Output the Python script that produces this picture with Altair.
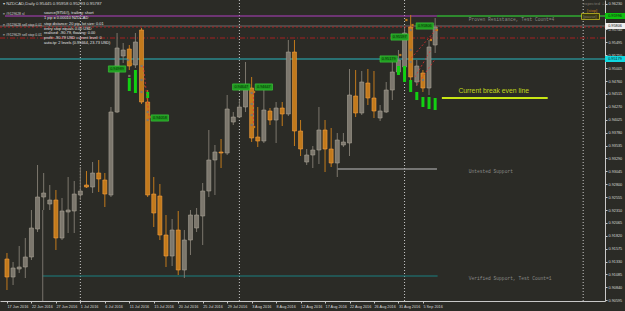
import altair as alt
import pandas as pd

# ---------------- data (NZDCAD daily, bar 0 = 17 Jun 2016, Sunday bars included) -------------
opens = [0.91379,0.91037,0.91189,0.91227,0.91417,0.91949,0.92557,0.92424,0.92500,0.91778,
         0.92272,0.92291,0.92595,0.92785,0.92747,0.93013,0.92880,0.92595,0.94172,0.95236,
         0.95369,0.95065,0.95730,0.94362,0.92614,0.92576,0.91835,0.91436,0.91930,0.91170,
         0.91740,0.91968,0.92196,0.92671,0.93260,0.93412,0.93393,0.93982,0.94077,0.94267,
         0.94628,0.93697,0.93621,0.94191,0.94020,0.94248,0.94134,0.95312,0.93811,0.93222,
         0.93355,0.93450,0.93830,0.93469,0.93203,0.93545,0.93583,0.94476,0.94153,0.94723,
         0.94438,0.94058,0.94172,0.94590,0.94932,0.95027,0.95787,0.94742,0.94913,0.94628,
         0.95445]
highs = [0.91493,0.91322,0.91626,0.91778,0.92310,0.93165,0.93013,0.92785,0.92690,0.92538,
         0.92937,0.92861,0.93127,0.93051,0.93222,0.93260,0.93013,0.94267,0.95673,0.95483,
         0.95445,0.95673,0.95768,0.94590,0.92937,0.92804,0.92215,0.92139,0.92291,0.91930,
         0.92310,0.92348,0.92823,0.93830,0.93545,0.93659,0.94495,0.94172,0.94400,0.95122,
         0.94837,0.94267,0.94628,0.94248,0.94362,0.94362,0.95540,0.95540,0.94020,0.93469,
         0.93526,0.94267,0.94020,0.93868,0.93773,0.93773,0.94989,0.94970,0.94951,0.94989,
         0.94951,0.94305,0.94742,0.95122,0.95350,0.95768,0.96015,0.95160,0.94970,0.95540,
         0.95958]
lows = [0.90790,0.90885,0.91113,0.91018,0.91360,0.91892,0.92310,0.92310,0.91550,0.91740,
        0.91873,0.91873,0.92500,0.92728,0.92633,0.92652,0.92367,0.92557,0.94153,0.95103,
        0.94970,0.95008,0.94324,0.92557,0.91987,0.91740,0.91227,0.91246,0.91075,0.91018,
        0.91455,0.91892,0.91645,0.92557,0.92595,0.93108,0.93355,0.93925,0.94058,0.94172,
        0.93602,0.93507,0.93583,0.93925,0.93583,0.93906,0.94096,0.93526,0.93336,0.93165,
        0.93108,0.93184,0.93032,0.93127,0.92937,0.93507,0.93336,0.94077,0.94115,0.94305,
        0.94058,0.94001,0.94153,0.94400,0.94913,0.94970,0.94780,0.94666,0.94552,0.94495,
        0.95293]
closes = [0.91037,0.91208,0.91227,0.91417,0.91968,0.92557,0.92633,0.92500,0.91778,0.92291,
          0.92310,0.92614,0.92671,0.92747,0.93013,0.92899,0.92614,0.94172,0.95388,0.95350,
          0.95046,0.95502,0.94362,0.92595,0.92253,0.91835,0.91436,0.91930,0.91170,0.91740,
          0.92215,0.92215,0.92671,0.93260,0.93412,0.93393,0.94229,0.94077,0.94267,0.94628,
          0.93678,0.93621,0.94210,0.94020,0.94248,0.94134,0.95312,0.93811,0.93469,0.93355,
          0.93450,0.93830,0.93469,0.93203,0.93640,0.93602,0.94495,0.94153,0.94742,0.94438,
          0.94191,0.94191,0.94590,0.94932,0.95160,0.95673,0.94837,0.95046,0.94628,0.95407,
          0.95787]

date_labels = ["17 Jun 2016", "22 Jun 2016", "27 Jun 2016", "1 Jul 2016", "6 Jul 2016",
               "11 Jul 2016", "15 Jul 2016", "20 Jul 2016", "25 Jul 2016", "29 Jul 2016",
               "3 Aug 2016", "8 Aug 2016", "12 Aug 2016", "17 Aug 2016", "22 Aug 2016",
               "26 Aug 2016", "31 Aug 2016", "5 Sep 2016"]
date_positions = [0, 4, 8, 12, 16, 20, 24, 28, 32, 36, 40, 44, 48, 52, 56, 60, 64, 68]

price_ticks = [0.90595, 0.90840, 0.91085, 0.91330, 0.91575, 0.91820, 0.92065, 0.92310,
               0.92555, 0.92800, 0.93045, 0.93290, 0.93535, 0.93780, 0.94025, 0.94270,
               0.94515, 0.94760, 0.95005, 0.95250, 0.95495, 0.95740, 0.95985, 0.96230]

# levels
resistance_level = 0.95996
bid_level = 0.95806
order_level = 0.95787
stop_level = 0.95578
entry_level = 0.95179
breakeven_level = 0.94438
untested_level = 0.93089
verified_level = 0.91056

separator_bars = [12, 38, 65, 94.2]

# green indicator bars
gb_idx = [20, 21, 23, 64, 65, 66, 67, 68, 69, 70]
gb_top = [0.94818, 0.94970, 0.94552, 0.95046, 0.95046, 0.94780, 0.94552, 0.94457, 0.94457, 0.94438]
gb_bot = [0.94571, 0.94533, 0.94438, 0.94875, 0.94742, 0.94552, 0.94400, 0.94267, 0.94229, 0.94210]

# trade markers
mk_idx = [19.8, 20.0, 22.0, 22.0, 22.0, 23.0, 23.0, 40.0, 40.0, 40.0, 40.0, 65.0, 65.0, 66.0,
          66.0, 66.0, 67.0, 68.0, 69.0, 70.0,
          20.3, 22.3, 23.3, 40.4, 40.4, 64.3, 65.3, 66.3, 69.3, 70.3]
mk_price = [0.95160, 0.94856, 0.95046, 0.94780, 0.94552, 0.94172, 0.94020, 0.94533, 0.94324,
            0.94115, 0.93925, 0.95540, 0.95255, 0.95730, 0.95350, 0.95122, 0.94875, 0.94780,
            0.95255, 0.95635,
            0.95084, 0.94666, 0.94077, 0.94552, 0.93887, 0.95255, 0.95920, 0.95825, 0.95540, 0.95730]
mk_kind = ["sell"] * 20 + ["buy"] * 10

# trade connection lines
tl_x1 = [22.3, 40.3, 66.1, 66.7, 67.0]
tl_y1 = [0.95046, 0.94533, 0.95198, 0.94837, 0.94685]
tl_x2 = [23.3, 40.3, 70.4, 69.3, 69.9]
tl_y2 = [0.94020, 0.93887, 0.95768, 0.95350, 0.95160]

# green price tags
tag_idx = [18.0, 25.0, 38.3, 42.0, 62.4, 64.2, 68.3]
tag_price = [0.94989, 0.94058, 0.94647, 0.94647, 0.95179, 0.95597, 0.95806]

info_lines = ["source(9756#), trailing: short",
              "1 pip = 0.00010 NZDCAD",
              "stop distance: 20 pip, lot size: 0.01",
              "entry stop equals 0.00 USD",
              "realised: -90.79, floating: 0.00",
              "profit: -90.79 USD current level: 0",
              "auto-tp: 2 levels (0.95664, 23.73 USD)"]
order_lines = ["≡ #9129628 sl", "≡ #9129628 sell stop 0.01", "≡ #9129629 sell stop 0.01"]

# ---------------- styling ----------------
BG = "#2b2b26"
W, H = 605, 301
FONT = "Liberation Sans"
xs = alt.Scale(domain=[-0.32, 96.95], nice=False, zero=False)
ys = alt.Scale(domain=[0.90581, 0.96300], nice=False, zero=False)

date_expr = "[" + ",".join("'%s'" % d for d in date_labels) + "][datum.value/4]"
x_axis = alt.Axis(values=date_positions, labelExpr=date_expr, labelAlign="left",
                  labelFontSize=3.8, labelFont=FONT, labelColor="#d8d8d8", labelPadding=1,
                  tickColor="#c8c8c8", tickSize=2, domainColor="#c8c8c8", grid=False,
                  title=None, labelOverlap=False, labelFlush=False, labelBound=False, zindex=0)
y_axis = alt.Axis(orient="right", values=price_ticks, format=".5f", labelFontSize=3.8,
                  labelFont=FONT, labelColor="#d8d8d8", labelPadding=1, tickColor="#c8c8c8",
                  tickSize=2, domainColor="#c8c8c8", grid=False, title=None,
                  labelOverlap=False, labelFlush=False, zindex=0)


def X(f):
    return alt.X(f, type="quantitative", scale=xs, axis=x_axis)


def Y(f):
    return alt.Y(f, type="quantitative", scale=ys, axis=y_axis)


df = pd.DataFrame({"i": list(range(len(opens))), "open": opens, "high": highs,
                   "low": lows, "close": closes})
df["dir"] = ["up" if c >= o else "down" for o, c in zip(opens, closes)]

layers = []

# vertical period separators
sep_df = pd.DataFrame({"i": separator_bars})
layers.append(alt.Chart(sep_df).mark_rule(color="#c8c8c8", strokeWidth=1, strokeDash=[1, 2])
              .encode(x=X("i"), y=alt.value(0), y2=alt.value(H)))


def hline(level, color, width=1, dash=None, start=None, end=None):
    d = pd.DataFrame({"p": [level], "s": [start if start is not None else 0.0],
                      "e": [end if end is not None else 0.0]})
    kw = dict(color=color, strokeWidth=width)
    if dash:
        kw["strokeDash"] = dash
    enc = dict(y=Y("p"))
    enc["x"] = X("s") if start is not None else alt.value(0)
    enc["x2"] = alt.X2("e") if end is not None else alt.value(W)
    return alt.Chart(d).mark_rule(**kw).encode(**enc)


layers += [
    hline(bid_level, "#6c6c6c"),
    hline(order_level, "#b02020", 1, [2, 2]),
    hline(stop_level, "#a82020", 1, [5, 2, 1, 2]),
    hline(entry_level, "#28b8c0"),
    hline(resistance_level, "#b040c0", 1, None, -0.32, 70.3),
    hline(resistance_level, "#2e8a2e", 2, None, 70.3, None),
    hline(verified_level, "#1a8080", 1, None, 5.8, 70.4),
    hline(untested_level, "#c0c0c0", 1, None, 54.0, 70.3),
    hline(breakeven_level, "#c8e614", 2, None, 71.1, 88.4),
]

# long vertical line under bar 6
vl_df = pd.DataFrame({"i": [5.85], "a": [lows[6]], "b": [0.90581]})
layers.append(alt.Chart(vl_df).mark_rule(color="#77726a", strokeWidth=1)
              .encode(x=X("i"), y=Y("a"), y2=alt.Y2("b")))

# candles
wick_scale = alt.Scale(domain=["up", "down"], range=["#7c776d", "#c27a1c"])
fill_scale = alt.Scale(domain=["up", "down"], range=["#8b857a", "#f28d1e"])
stroke_scale = alt.Scale(domain=["up", "down"], range=["#a8a296", "#f5a040"])
base = alt.Chart(df)
layers.append(base.mark_rule(strokeWidth=1).encode(
    x=X("i"), y=Y("low"), y2=alt.Y2("high"),
    color=alt.Color("dir:N", scale=wick_scale, legend=None)))
layers.append(base.mark_bar(size=4, strokeWidth=0.6).encode(
    x=X("i"), y=Y("open"), y2=alt.Y2("close"),
    color=alt.Color("dir:N", scale=fill_scale, legend=None),
    stroke=alt.Stroke("dir:N", scale=stroke_scale, legend=None)))

# green indicator bars
gb_df = pd.DataFrame({"i": gb_idx, "t": gb_top, "b": gb_bot})
layers.append(alt.Chart(gb_df).mark_bar(size=3, color="#12d012").encode(
    x=X("i"), y=Y("t"), y2=alt.Y2("b")))

# trade lines
tl_df = pd.DataFrame({"x1": tl_x1, "y1": tl_y1, "x2": tl_x2, "y2": tl_y2})
layers.append(alt.Chart(tl_df).mark_rule(color="#e03030", strokeWidth=0.8, strokeDash=[2, 2])
              .encode(x=X("x1"), x2=alt.X2("x2"), y=Y("y1"), y2=alt.Y2("y2")))

# trade markers
mk_df = pd.DataFrame({"i": mk_idx, "p": mk_price, "k": mk_kind})
layers.append(alt.Chart(mk_df).mark_square(size=5, opacity=1).encode(
    x=X("i"), y=Y("p"),
    color=alt.Color("k:N", scale=alt.Scale(domain=["sell", "buy"], range=["#ff3030", "#4060ff"]),
                    legend=None)))

# green price tags
tag_df = pd.DataFrame({"i": tag_idx, "p": tag_price,
                       "t": ["%.5f" % v for v in tag_price]})
layers.append(alt.Chart(tag_df).mark_point(shape="M-1,-0.36H1V0.36H-1Z", size=300, filled=True,
                                           fill="#1f9a1f", stroke="#3ed03e", strokeWidth=0.6,
                                           opacity=1)
              .encode(x=X("i"), y=Y("p")))
layers.append(alt.Chart(tag_df).mark_text(fontSize=3.8, font=FONT, color="#062806")
              .encode(x=X("i"), y=Y("p"), text="t:N"))

# level texts
lt_df = pd.DataFrame({"i": [75.5, 75.5, 75.5], "p": [0.95920, 0.93030, 0.90990],
                      "t": ["Proven Resistance, Test Count=4", "Untested Support",
                            "Verified Support, Test Count=1"]})
layers.append(alt.Chart(lt_df).mark_text(align="left", baseline="middle", fontSize=4.6,
                                         font="Liberation Mono", color="#8a8a86")
              .encode(x=X("i"), y=Y("p"), text="t:N"))
be_df = pd.DataFrame({"i": [73.8], "p": [0.94565], "t": ["Current break even line"]})
layers.append(alt.Chart(be_df).mark_text(align="left", baseline="middle", fontSize=6.8,
                                         font=FONT, color="#c2d81a")
              .encode(x=X("i"), y=Y("p"), text="t:N"))

# right axis price boxes
box_df = pd.DataFrame({"p": [resistance_level, bid_level, entry_level],
                       "t": ["%.5f" % resistance_level, "%.5f" % bid_level, "%.5f" % entry_level],
                       "c": ["g", "w", "c"]})
layers.append(alt.Chart(box_df).mark_point(shape="M-1,-0.3H1V0.3H-1Z", size=400, filled=True,
                                           opacity=1)
              .encode(x=alt.value(615), y=Y("p"),
                      fill=alt.Fill("c:N", scale=alt.Scale(domain=["g", "w", "c"],
                                                           range=["#10c010", "#eeeeee", "#10d8e0"]),
                                    legend=None)))
layers.append(alt.Chart(box_df).mark_text(fontSize=3.8, font=FONT, color="#101010")
              .encode(x=alt.value(615), y=Y("p"), text="t:N"))

# header and panel texts (pixel placed UI text)
hdr = pd.DataFrame({"t": ["▾ NZDCAD,Daily  0.95445 0.95958 0.95293 0.95787"]})
layers.append(alt.Chart(hdr).mark_text(align="left", baseline="middle", fontSize=4.3, font=FONT,
                                       color="#d8d8d8")
              .encode(x=alt.value(3), y=alt.value(3.5), text="t:N"))
ol_df = pd.DataFrame({"t": order_lines, "y": [14, 25, 35]})
layers.append(alt.Chart(ol_df).mark_text(align="left", baseline="middle", fontSize=3.4, font=FONT,
                                         color="#d0d0d0")
              .encode(x=alt.value(3), y=alt.Y("y:Q", scale=None, axis=None), text="t:N"))
il_df = pd.DataFrame({"t": info_lines, "y": [13.3, 18.3, 23.6, 28.5, 33.3, 38.2, 42.8]})
layers.append(alt.Chart(il_df).mark_text(align="left", baseline="middle", fontSize=3.9, font=FONT,
                                         color="#e4e4e4")
              .encode(x=alt.value(44), y=alt.Y("y:Q", scale=None, axis=None), text="t:N"))

# top-right EA status
ea_df = pd.DataFrame({"t": ["expected ☺", "[stop]", "[pause]"], "y": [4, 11, 16.5],
                      "x": [583, 587, 583], "c": ["a", "b", "c"]})
layers.append(alt.Chart(pd.DataFrame({"a": [1]})).mark_rect(fill="#3a3a10", stroke="#d8d020",
                                                            strokeWidth=0.7)
              .encode(x=alt.value(581.5), x2=alt.value(599.5), y=alt.value(13.5), y2=alt.value(19.5)))
layers.append(alt.Chart(ea_df).mark_text(align="left", baseline="middle", fontSize=4.2, font=FONT)
              .encode(x=alt.X("x:Q", scale=None, axis=None), y=alt.Y("y:Q", scale=None, axis=None),
                      text="t:N",
                      color=alt.Color("c:N", scale=alt.Scale(domain=["a", "b", "c"],
                                                             range=["#d0d0d0", "#e02020", "#e8e030"]),
                                      legend=None)))

chart = alt.layer(*layers).properties(
    width=W, height=H,
    padding={"left": 0, "top": 0, "right": 20, "bottom": 10},
    autosize=alt.AutoSizeParams(type="none"),
).configure(background=BG).configure_view(fill=BG, stroke=None)

chart.save("out.html", embed_options={"renderer": "svg", "actions": False})
